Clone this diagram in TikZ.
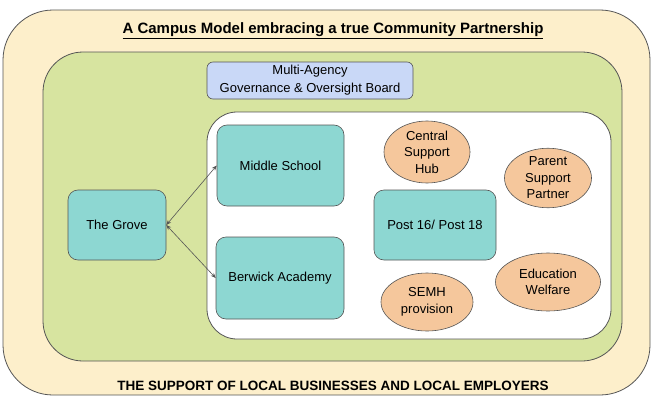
\documentclass[tikz,border=0pt]{standalone}
\usepackage{fontspec}
\setmainfont{Liberation Sans}
\usetikzlibrary{shapes.geometric,arrows.meta}
\definecolor{cream}{HTML}{FDEFCB}
\definecolor{leaf}{HTML}{D7E4A0}
\definecolor{sky}{HTML}{C9D8F7}
\definecolor{teal2}{HTML}{8DD7D2}
\definecolor{peach}{HTML}{F5C79C}
\definecolor{edge}{HTML}{555555}
\tikzset{
  panel/.style={draw=edge, line width=0.8pt},
  tealbox/.style={draw=edge, line width=0.6pt, fill=teal2, rounded corners=10pt, inner sep=0pt, font=\fontsize{13}{16}\selectfont, align=center},
  oval/.style={ellipse, draw=edge, line width=0.6pt, fill=peach, inner sep=0pt, font=\fontsize{13}{16.5}\selectfont, align=center},
  link/.style={draw=edge, line width=0.6pt, {Stealth[length=5pt,width=4pt]}-{Stealth[length=5pt,width=4pt]}}
}
\begin{document}
\begin{tikzpicture}[x=1pt,y=-1pt]
\useasboundingbox (0,0) rectangle (652,396);
\draw[panel, fill=cream, rounded corners=50pt] (3,10) rectangle (650,395);
\draw[panel, fill=leaf, rounded corners=40pt] (43,52) rectangle (622,361);
\draw[panel, fill=white, rounded corners=30pt] (207,112) rectangle (611,339);
\node (title) at (333,31) {\fontsize{15}{18}\selectfont\bfseries \underline{A Campus Model embracing a true Community Partnership}};
\node (bottom) at (333,386) {\fontsize{13.5}{16}\selectfont\bfseries THE SUPPORT OF LOCAL BUSINESSES AND LOCAL EMPLOYERS};
\node[draw=edge, line width=0.6pt, fill=sky, rounded corners=6pt, minimum width=206pt, minimum height=37pt, inner sep=0pt, align=center, font=\fontsize{13}{18}\selectfont] (board) at (310,80.5) {\raisebox{-1.5pt}{Multi-Agency}\\\raisebox{-1.5pt}{Governance \& Oversight Board}};
\node[tealbox, minimum width=127pt, minimum height=81pt] (ms) at (280.5,165.5) {Middle School};
\node[tealbox, minimum width=98pt, minimum height=70pt] (grove) at (117,225) {The Grove};
\node[tealbox, minimum width=128pt, minimum height=82pt] (berwick) at (280,278) {Berwick Academy};
\node[tealbox, minimum width=122pt, minimum height=70pt] (post) at (435,225) {Post 16/ Post 18};
\node[oval, minimum width=86pt, minimum height=62pt] (hub) at (427,152) {Central\\Support\\Hub};
\node[oval, minimum width=87pt, minimum height=59pt] (parent) at (548,178) {Parent\\Support\\Partner};
\node[oval, minimum width=105pt, minimum height=58pt] (welfare) at (548,282) {Education\\Welfare};
\node[oval, minimum width=92pt, minimum height=58pt] (semh) at (427,302) {SEMH\\provision};
\draw[link] (grove.east) -- (ms.west);
\draw[link] (grove.east) -- (berwick.west);
\end{tikzpicture}
\end{document}
